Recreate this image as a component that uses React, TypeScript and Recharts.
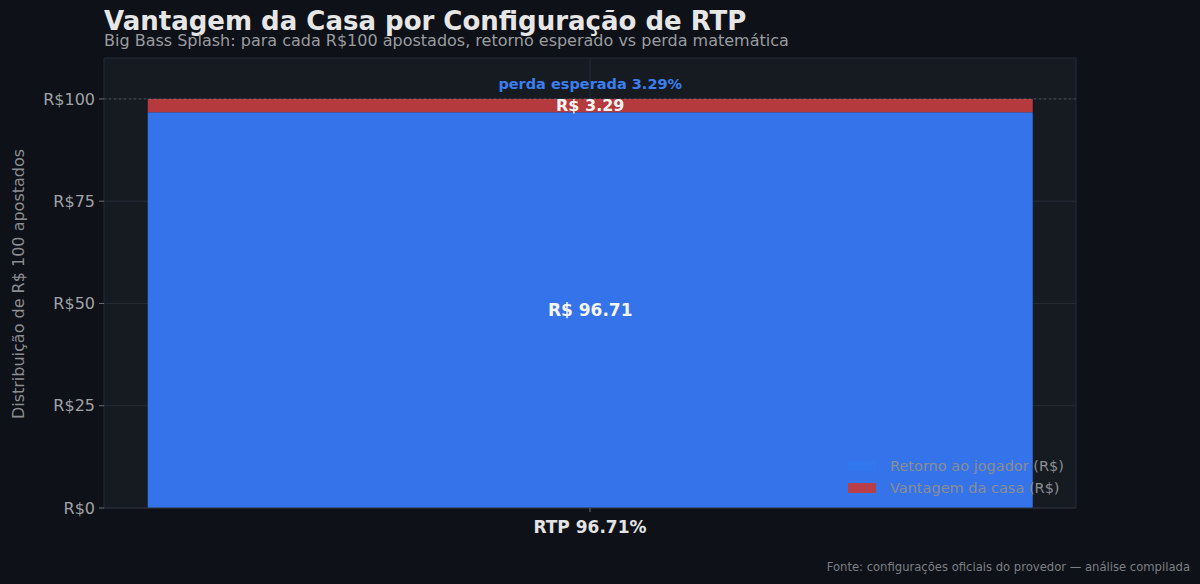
import {
  Bar,
  BarChart,
  CartesianGrid,
  LabelList,
  ReferenceLine,
  XAxis,
  YAxis,
} from 'recharts'

const categories = ['RTP 96.71%']
const playerReturn = [96.71]
const houseEdge = [3.29]
const yTicks = [0, 25, 50, 75, 100]
const seriesNames = ['Retorno ao jogador (R$)', 'Vantagem da casa (R$)']

const BLUE = '#3573ea'
const RED = '#b43a3e'
const FONT = '"DejaVu Sans", sans-serif'

const data = categories.map((name, i) => ({
  name,
  player: playerReturn[i],
  house: houseEdge[i],
}))

function LegendBox() {
  const colors = ['#3377ee', '#b83e48']
  return (
    <div
      style={{
        position: 'absolute',
        left: 848,
        top: 455,
        fontSize: 14.5,
        color: '#8b8d92',
        zIndex: 2,
      }}
    >
      {seriesNames.map((s, i) => (
        <div key={s} style={{ display: 'flex', alignItems: 'center', height: 22, whiteSpace: 'nowrap' }}>
          <span
            style={{
              display: 'inline-block',
              width: 28,
              height: 10,
              background: colors[i],
              marginRight: 14,
            }}
          />
          {s}
        </div>
      ))}
    </div>
  )
}

export default function App() {
  return (
    <div
      style={{
        position: 'fixed',
        left: 0,
        top: 0,
        width: 1200,
        height: 584,
        background: '#0e1117',
        fontFamily: FONT,
        overflow: 'hidden',
      }}
    >
      <BarChart
        width={1200}
        height={584}
        data={data}
        margin={{ top: 58, right: 124, bottom: 46, left: 34 }}
        barCategoryGap="4.5%"
        style={{ position: 'absolute', left: 0, top: 0 }}
      >
        <CartesianGrid stroke="#252b34" fill="#161b22" />
        <XAxis
          dataKey="name"
          tick={{ fill: '#e3e3e3', fontSize: 17, fontWeight: 'bold', fontFamily: FONT, dy: 7 }}
          axisLine={{ stroke: '#2a2f38' }}
          tickLine={{ stroke: '#6b6e74' }}
          tickSize={4}
          height={30}
        />
        <YAxis
          domain={[0, 110]}
          ticks={yTicks}
          tickFormatter={(v: number) => `R$${v}`}
          tick={{ fill: '#a0a2a6', fontSize: 16, fontFamily: FONT }}
          axisLine={false}
          tickLine={{ stroke: '#6b6e74' }}
          tickSize={5}
          tickMargin={4}
          width={70}
        />
        <Bar dataKey="player" stackId="a" fill={BLUE} isAnimationActive={false}>
          <LabelList
            dataKey="player"
            position="center"
            formatter={(v: number) => `R$ ${v.toFixed(2)}`}
            style={{ fill: '#f5f5f5', fontSize: 17, fontWeight: 'bold', fontFamily: FONT }}
          />
        </Bar>
        <Bar dataKey="house" stackId="a" fill={RED} isAnimationActive={false}>
          <LabelList
            dataKey="house"
            position="center"
            formatter={(v: number) => `R$ ${v.toFixed(2)}`}
            style={{ fill: '#f5f5f5', fontSize: 16, fontWeight: 'bold', fontFamily: FONT }}
          />
          <LabelList
            dataKey="house"
            position="top"
            offset={10}
            formatter={(v: number) => `perda esperada ${v.toFixed(2)}%`}
            style={{ fill: '#3b7ef0', fontSize: 14.5, fontWeight: 'bold', fontFamily: FONT }}
          />
        </Bar>
        <ReferenceLine y={100} stroke="#ffffff" strokeOpacity={0.2} strokeDasharray="2 3" />
      </BarChart>
      <LegendBox />
      <div
        style={{
          position: 'absolute',
          left: 104,
          top: 6,
          fontSize: 26,
          fontWeight: 'bold',
          color: '#e6e6e6',
          whiteSpace: 'nowrap',
        }}
      >
        Vantagem da Casa por Configuração de RTP
      </div>
      <div
        style={{
          position: 'absolute',
          left: 104,
          top: 31,
          fontSize: 16,
          color: '#9a9ca0',
          whiteSpace: 'nowrap',
        }}
      >
        Big Bass Splash: para cada R$100 apostados, retorno esperado vs perda matemática
      </div>
      <div
        style={{
          position: 'absolute',
          left: 18,
          top: 284,
          transform: 'translate(-50%, -50%) rotate(-90deg)',
          fontSize: 16,
          color: '#8b8d92',
          whiteSpace: 'nowrap',
        }}
      >
        Distribuição de R$ 100 apostados
      </div>
      <div
        style={{
          position: 'absolute',
          right: 10,
          top: 560,
          fontSize: 11.6,
          color: '#7d7f84',
          whiteSpace: 'nowrap',
        }}
      >
        Fonte: configurações oficiais do provedor — análise compilada
      </div>
    </div>
  )
}
